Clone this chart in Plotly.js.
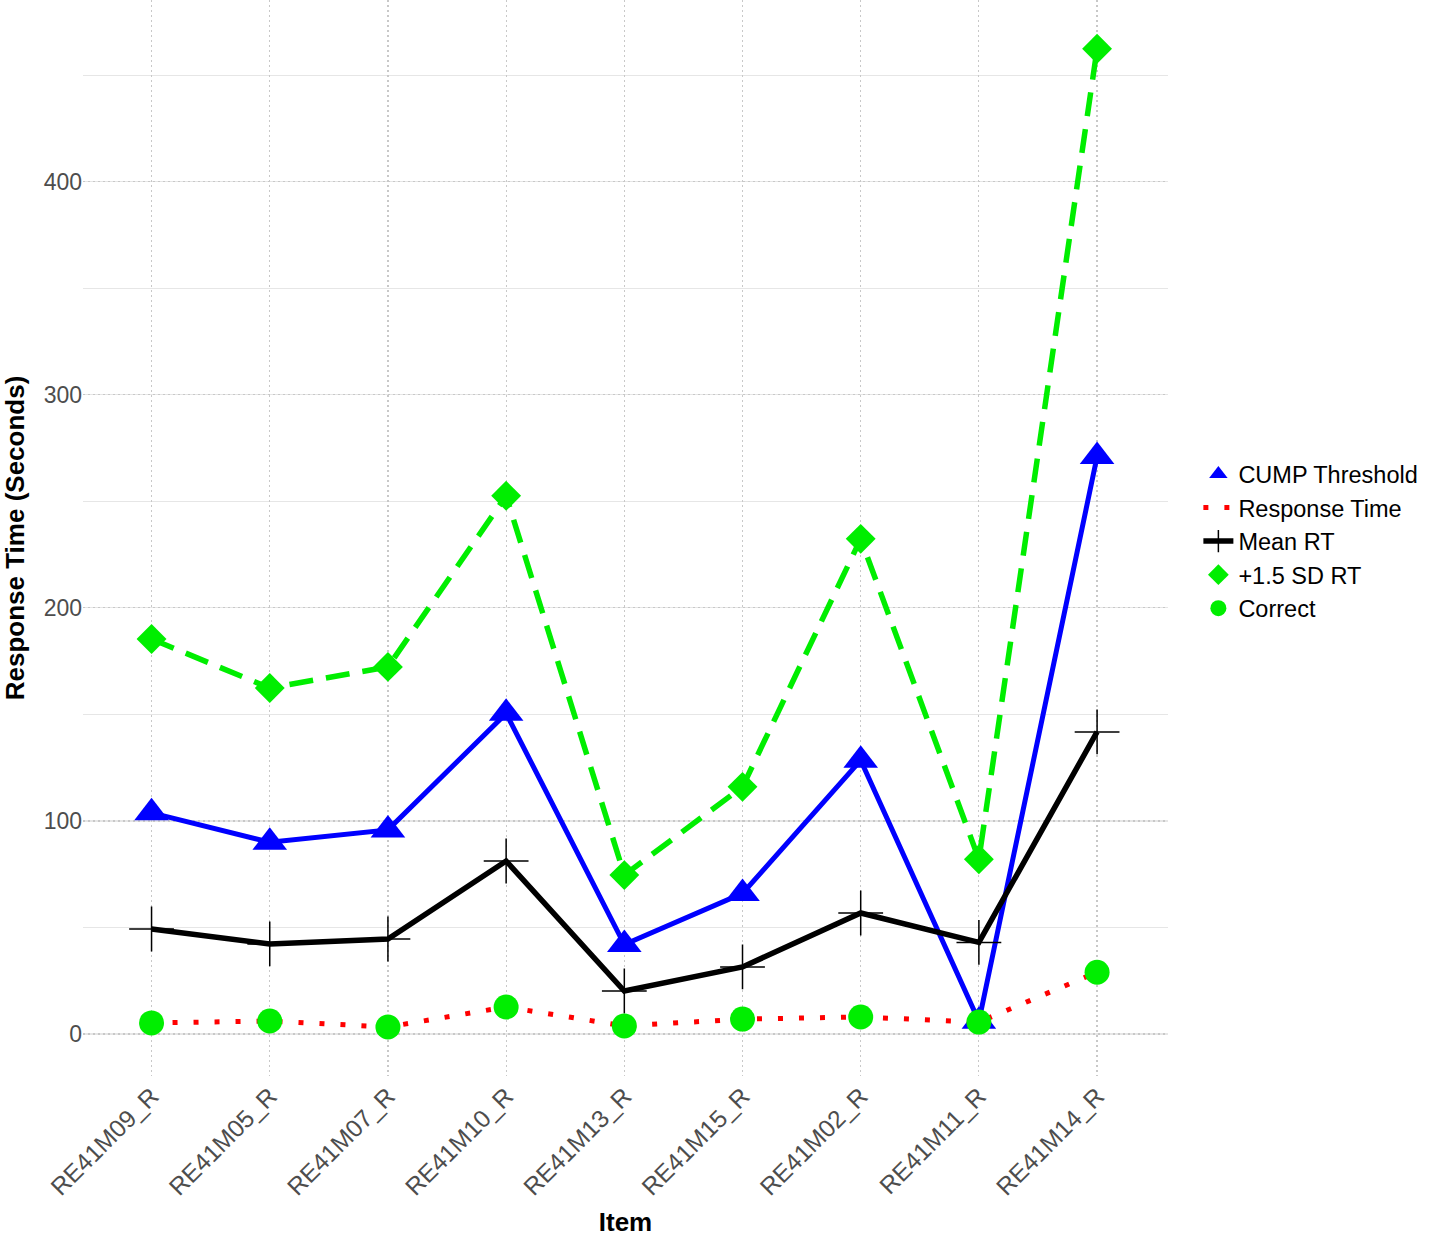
<!DOCTYPE html>
<html>
<head>
<meta charset="utf-8">
<script src="https://cdn.plot.ly/plotly-3.0.1.min.js"></script>
<style>
  body { margin: 0; background: #fff; }
  #myDiv { width: 1429px; height: 1237px; }
</style>
</head>
<body>
<div id="myDiv"></div>
<script>
// items in plotted order
var items = ['RE41M09_R', 'RE41M05_R', 'RE41M07_R', 'RE41M10_R', 'RE41M13_R',
             'RE41M15_R', 'RE41M02_R', 'RE41M11_R', 'RE41M14_R'];

// values (seconds)
var cumpThreshold = [103.8, 90.0, 95.8, 150.5, 42.0, 66.0, 128.5, 6.0, 271.0];
var responseTime  = [5.2, 6.1, 3.3, 12.7, 3.8, 7.0, 8.0, 5.6, 29.0];
var meanRT        = [49.3, 42.3, 44.6, 81.2, 20.2, 31.5, 56.8, 43.0, 141.8];
var sdRT          = [185.4, 162.4, 172.3, 252.6, 74.6, 116.0, 232.4, 82.0, 462.4];
var correct       = responseTime;

var yTicks = [0, 100, 200, 300, 400];

var fontFam = 'Liberation Sans, Arial, sans-serif';

var plotData = [
  { // blue line, legend shows only the triangle
    x: items, y: cumpThreshold, type: 'scatter', mode: 'lines',
    line: {color: '#0000ff', width: 5}, showlegend: false, hoverinfo: 'skip'
  },
  {
    x: items, y: cumpThreshold, type: 'scatter', mode: 'markers',
    name: 'CUMP Threshold',
    marker: {symbol: 'triangle-up', size: 30, color: '#0000ff'}
  },
  {
    x: items, y: responseTime, type: 'scatter', mode: 'lines',
    name: 'Response Time',
    line: {color: '#ff0000', width: 5, dash: '5px,16px'}
  },
  {
    x: items, y: meanRT, type: 'scatter', mode: 'lines+markers',
    name: 'Mean RT',
    line: {color: '#000000', width: 5.5},
    marker: {symbol: 'cross-thin-open', size: 32, color: '#000000', line: {width: 1.5, color: '#000000'}}
  },
  { // green dashed line, legend shows only the diamond
    x: items, y: sdRT, type: 'scatter', mode: 'lines',
    line: {color: '#00ee00', width: 5.5, dash: '24px,13px'}, showlegend: false, hoverinfo: 'skip'
  },
  {
    x: items, y: sdRT, type: 'scatter', mode: 'markers',
    name: '+1.5 SD RT',
    marker: {symbol: 'diamond', size: 23, color: '#00ee00'}
  },
  {
    x: items, y: correct, type: 'scatter', mode: 'markers',
    name: 'Correct',
    marker: {symbol: 'circle', size: 25, color: '#00ee00'}
  }
];

var layout = {
  width: 1429,
  height: 1237,
  margin: {l: 83, r: 261, t: 0, b: 161},
  paper_bgcolor: '#ffffff',
  plot_bgcolor: '#ffffff',
  font: {family: fontFam, color: '#4d4d4d', size: 24},
  showlegend: true,
  legend: {
    x: 1.028, xanchor: 'left',
    y: 0.497, yanchor: 'middle',
    font: {family: fontFam, size: 23.5, color: '#000000'},
    itemwidth: 30,
    tracegroupgap: 0,
    bgcolor: 'rgba(0,0,0,0)'
  },
  xaxis: {
    type: 'category',
    range: [-0.58, 8.6],
    tickangle: -45,
    tickfont: {family: fontFam, size: 24.5, color: '#4d4d4d'},
    showgrid: true,
    gridcolor: '#c8c8c8',
    griddash: '2px,3px',
    gridwidth: 1.2,
    zeroline: false,
    showline: false,
    ticks: '',
    title: {text: 'Item', font: {family: fontFam, size: 26, color: '#000000', weight: 'bold'}, standoff: 16}
  },
  yaxis: {
    range: [-19.7, 485.3],
    tickvals: yTicks,
    tickfont: {family: fontFam, size: 23, color: '#4d4d4d'},
    showgrid: true,
    gridcolor: '#c8c8c8',
    griddash: '2px,3px',
    gridwidth: 1.2,
    minor: {dtick: 50, tick0: 50, showgrid: true, gridcolor: '#e6e6e6', gridwidth: 1.2, griddash: 'solid'},
    zeroline: false,
    showline: false,
    ticks: '',
    title: {text: 'Response Time (Seconds)', font: {family: fontFam, size: 26, color: '#000000', weight: 'bold'}, standoff: 12}
  }
};

var config = {displayModeBar: false, responsive: false, staticPlot: true};

Plotly.newPlot('myDiv', plotData, layout, config);
</script>
</body>
</html>
